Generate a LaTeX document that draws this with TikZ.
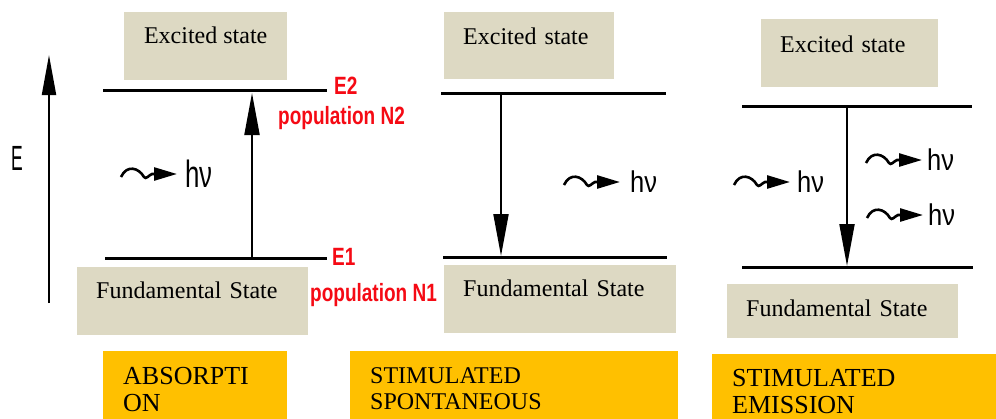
\documentclass[tikz,border=0pt]{standalone}
\usepackage{fontspec}
\setmainfont{Liberation Serif}
\newfontfamily\arialfont{Liberation Sans}
\usetikzlibrary{arrows.meta,positioning}

\definecolor{stategray}{HTML}{DDD9C3}
\definecolor{labelgold}{HTML}{FFC000}
\definecolor{popred}{RGB}{245,10,20}

\newcommand{\statefont}{\fontsize{24}{28}\selectfont}
\newcommand{\popfont}{\arialfont\bfseries\fontsize{25}{28}\selectfont}
% photon: wavy line ending in a dart at coordinate #1
\newcommand{\photon}[1]{%
  \draw[wave] ([shift={(-56,3)}]#1) .. controls +(6,-13) and +(-5,-9) .. ([shift={(-33,3)}]#1)
    .. controls +(2,3) and +(-3,1) .. ([shift={(-25,0)}]#1) -- (#1);}

\begin{document}
\begin{tikzpicture}[
  x=1pt, y=-1pt,
  >=Latex,
  statebox/.style={fill=stategray, anchor=north west, align=left, inner xsep=19pt, inner ysep=0pt, font=\statefont},
  namebox/.style={fill=labelgold, anchor=north west, align=left, inner xsep=20pt, inner ysep=0pt},
  level/.style={line width=3pt},
  trans/.style={line width=2pt, -{Triangle[length=42pt,width=15pt]}},
  wave/.style={line width=2.6pt, -{Triangle[length=23pt,width=13pt]}},
  hv/.style={anchor=west, inner sep=0pt, font=\arialfont\fontsize{#1}{#1}\selectfont},
  pop/.style={anchor=base west, inner sep=0pt, text=popred, font=\popfont}
]
\useasboundingbox (0,0) rectangle (996,418);
\clip (0,0) rectangle (996,418);

% energy axis
\coordinate (axfrom) at (49,303);
\coordinate (axto) at (49,55);
\draw[line width=2pt, -{Triangle[length=40pt,width=14pt]}] (axfrom) -- (axto);
\node[inner sep=0pt, font=\arialfont\fontsize{35}{35}\selectfont] (elabel) at (17,158) {\scalebox{.5}[1]{E}};

% absorption
\node[statebox, minimum width=163pt, text height=31pt, text depth=37pt] (exc1) at (124,12) {Excited state};
\node[statebox, text width=193pt, text height=31pt, text depth=37pt] (fun1) at (77,267) {Fundamental State};
\coordinate (up1L) at (103,90);  \coordinate (up1R) at (327,90);
\coordinate (lo1L) at (105,258); \coordinate (lo1R) at (327,258);
\draw[level] (up1L) -- (up1R);
\draw[level] (lo1L) -- (lo1R);
\coordinate (absfrom) at (252,258);
\coordinate (absto) at (252,93);
\draw[trans] (absfrom) -- (absto);
\node[pop] (e2) at (334,94) {\scalebox{.76}[1]{E2}};
\node[pop] (n2) at (278,124) {\scalebox{.76}[1]{population N2}};
\node[pop] (e1) at (332,265) {\scalebox{.76}[1]{E1}};
\node[pop] (n1) at (310,301) {\scalebox{.76}[1]{population N1}};
\node[hv=38] (hv1) at (185,174) {\scalebox{.68}[1]{hν}};
\coordinate (ph1) at ([xshift=-8pt]hv1.west);
\photon{ph1}

% spontaneous
\node[statebox, text width=132pt, text height=32pt, text depth=35pt] (exc2) at (444,12) {Excited state};
\node[statebox, text width=194pt, text height=31pt, text depth=37pt] (fun2) at (444,265) {Fundamental State};
\coordinate (up2L) at (441,93);  \coordinate (up2R) at (666,93);
\coordinate (lo2L) at (443,257); \coordinate (lo2R) at (667,257);
\draw[level] (up2L) -- (up2R);
\draw[level] (lo2L) -- (lo2R);
\coordinate (spofrom) at (501,93);
\coordinate (spoto) at (501,256);
\draw[trans] (spofrom) -- (spoto);
\node[hv=30] (hv2) at (630,182) {\scalebox{.85}[1]{hν}};
\coordinate (ph2) at ([xshift=-10pt]hv2.west);
\photon{ph2}

% stimulated emission
\node[statebox, text width=139pt, text height=33pt, text depth=35pt] (exc3) at (761,19) {Excited state};
\node[statebox, text width=193pt, text height=32pt, text depth=22pt] (fun3) at (727,284) {Fundamental State};
\coordinate (up3L) at (742,106); \coordinate (up3R) at (972,106);
\coordinate (lo3L) at (742,267); \coordinate (lo3R) at (973,267);
\draw[level] (up3L) -- (up3R);
\draw[level] (lo3L) -- (lo3R);
\coordinate (emifrom) at (847,106);
\coordinate (emito) at (847,266);
\draw[trans] (emifrom) -- (emito);
\node[hv=30] (hv3) at (797,182) {\scalebox{.85}[1]{hν}};
\node[hv=30] (hv4) at (927,160) {\scalebox{.85}[1]{hν}};
\node[hv=30] (hv5) at (928,215) {\scalebox{.85}[1]{hν}};
\coordinate (ph3) at ([xshift=-7pt]hv3.west);
\coordinate (ph4) at ([xshift=-5pt]hv4.west);
\coordinate (ph5) at ([xshift=-5pt]hv5.west);
\photon{ph3}
\photon{ph4}
\photon{ph5}

% process names
\node[namebox, text width=144pt, text height=33pt, text depth=40pt, font=\fontsize{26}{27}\selectfont] (absname) at (103,351) {ABSORPTI\\ON};
\node[namebox, text width=288pt, text height=32pt, text depth=40pt, font=\fontsize{24}{26}\selectfont] (sponame) at (350,351) {STIMULATED\\SPONTANEOUS};
\node[namebox, text width=260pt, text height=32pt, text depth=40pt, font=\fontsize{26}{27}\selectfont] (eminame) at (712,354) {STIMULATED\\EMISSION};
\end{tikzpicture}
\end{document}
